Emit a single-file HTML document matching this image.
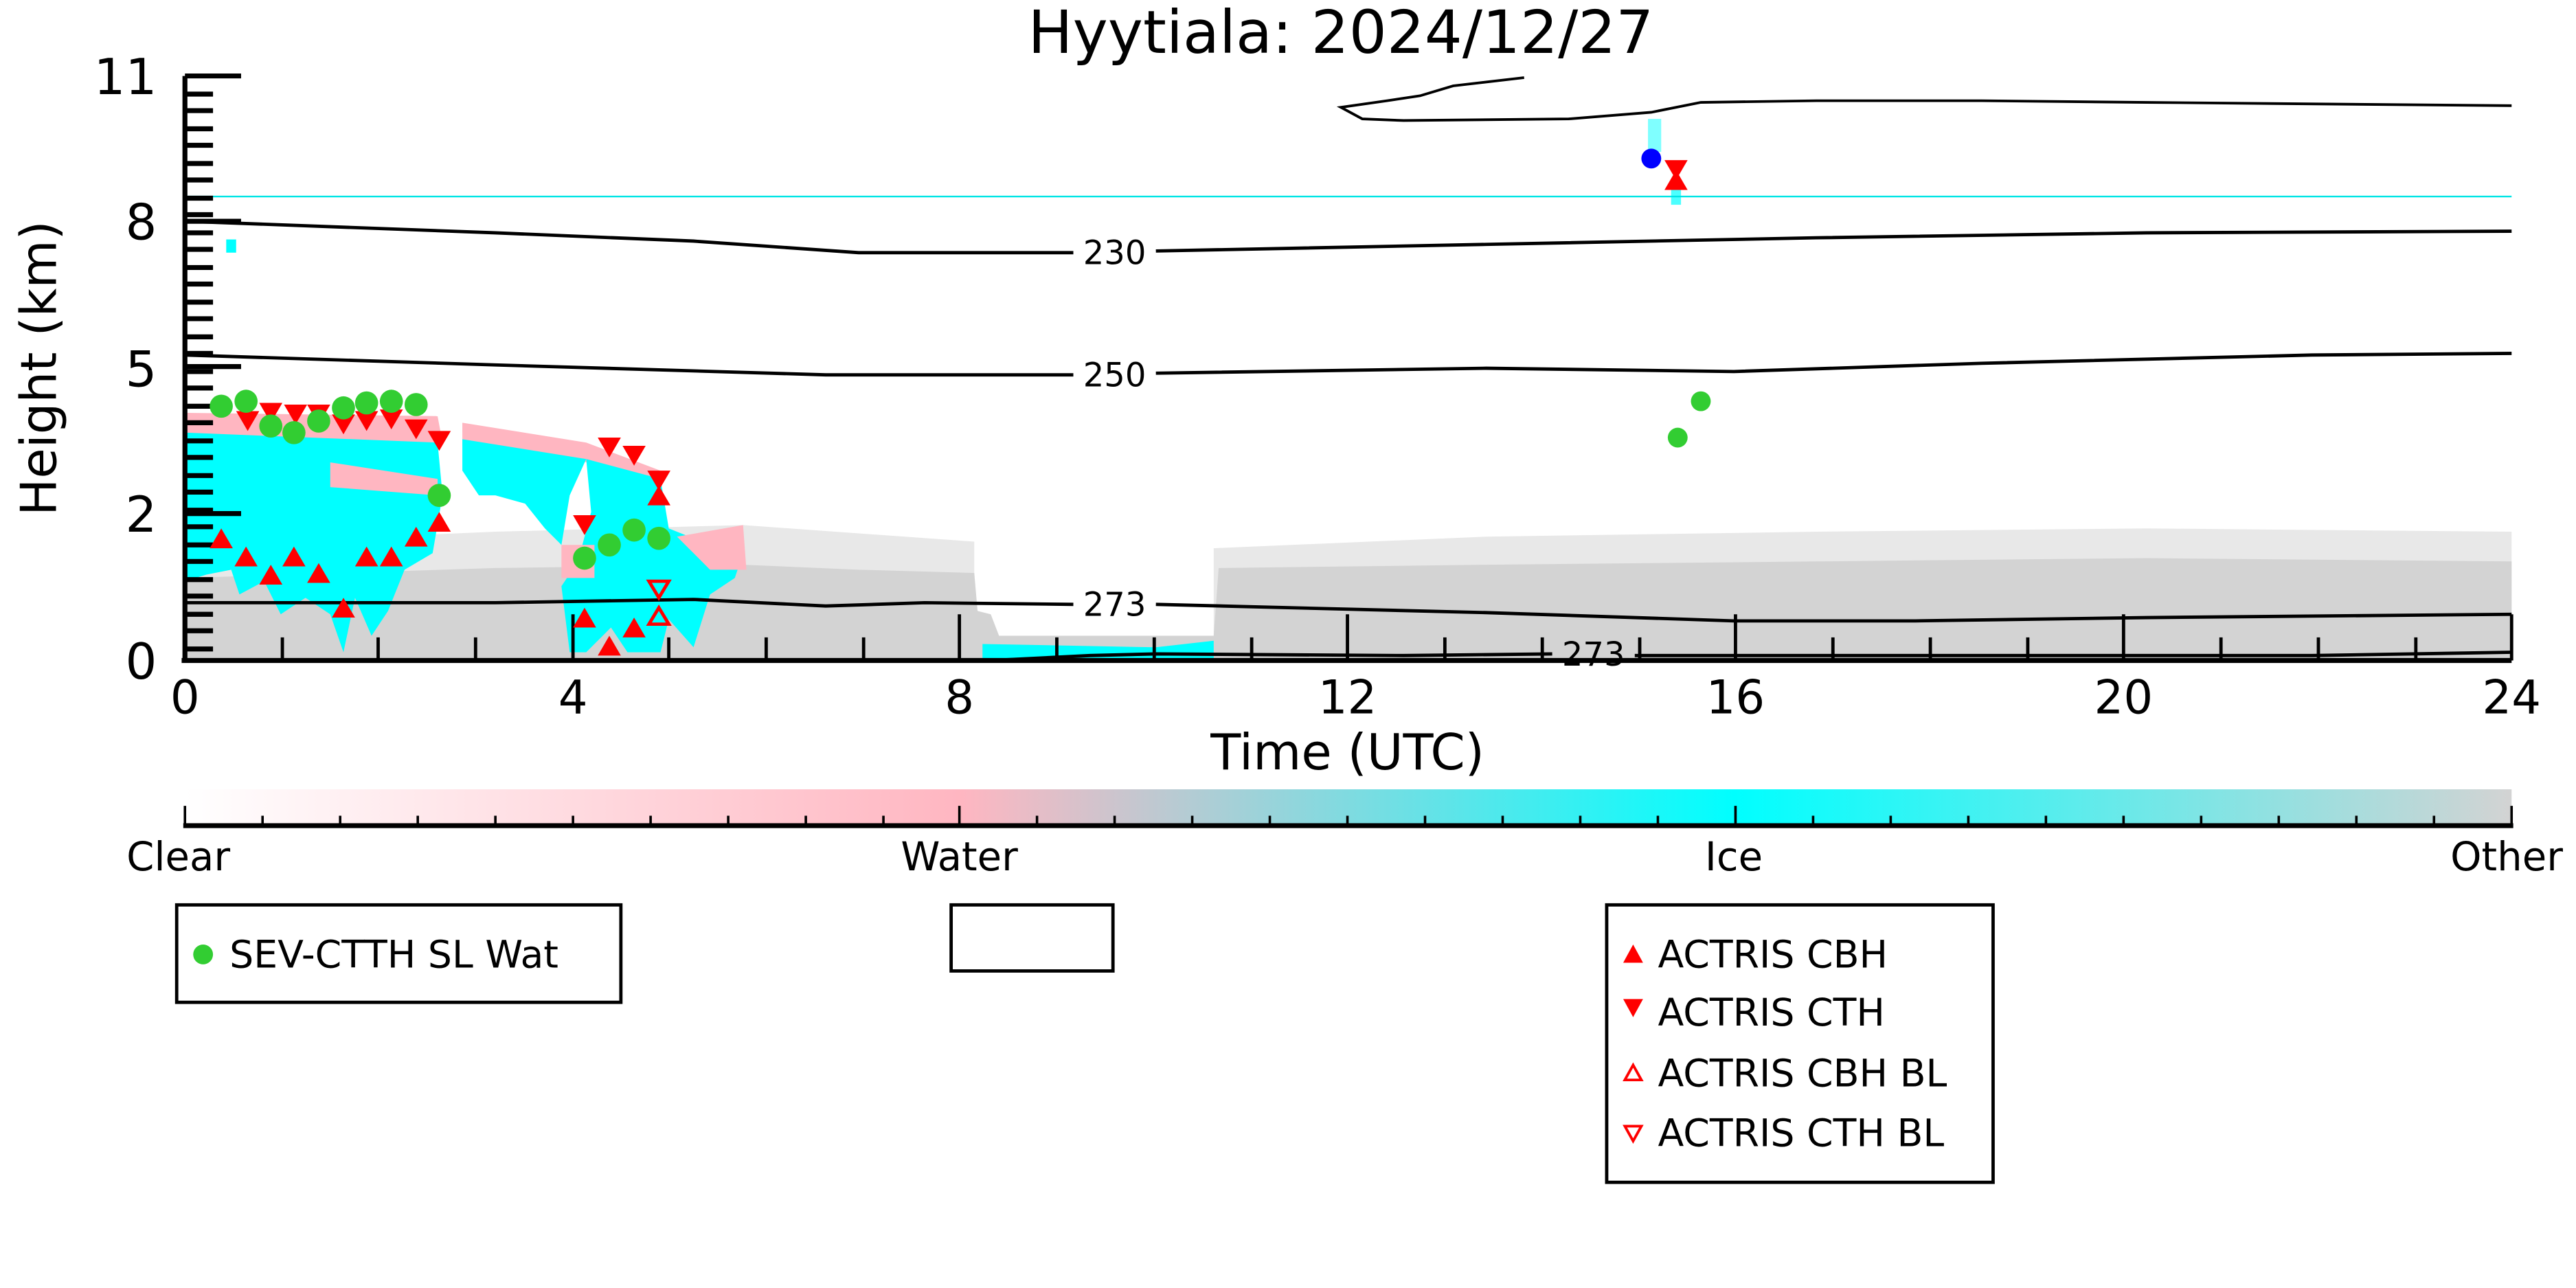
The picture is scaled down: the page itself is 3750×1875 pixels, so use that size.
<!DOCTYPE html>
<html><head><meta charset="utf-8"><style>
html,body{margin:0;padding:0;background:#fff}
svg{display:block}
text{font-family:"DejaVu Sans","Liberation Sans",sans-serif;fill:#000}
</style></head><body>
<svg width="3750" height="1875" viewBox="0 0 1560 780" preserveAspectRatio="none" xmlns="http://www.w3.org/2000/svg">
<defs>
<linearGradient id="cb" x1="0" x2="1" y1="0" y2="0">
<stop offset="0" stop-color="#ffffff"/>
<stop offset="0.333" stop-color="#ffb6c1"/>
<stop offset="0.666" stop-color="#00ffff"/>
<stop offset="1" stop-color="#d3d3d3"/>
</linearGradient>
</defs>
<text x="812" y="32" font-size="36" text-anchor="middle">Hyytiala: 2024/12/27</text>

<!-- grey speckle regions -->
<polygon fill="#e8e8e8" points="112,330 300,322 450,318 590,328 590,400 112,400"/>
<polygon fill="#e8e8e8" points="735,332 900,325 1100,322 1300,320 1521,322 1521,400 735,400"/>
<polygon fill="#d3d3d3" points="112,350 300,344 450,342 520,345 590,347 592,370 600,372 605,385 735,385 738,344 900,342 1100,340 1300,338 1521,340 1521,400 112,400"/>

<!-- left cloud -->
<polygon fill="#ffb6c1" points="112,250 265,252 268,268 250,270 112,268"/>
<polygon fill="#00ffff" points="112,262 265,268 268,300 262,335 245,345 235,370 225,385 215,362 208,395 200,372 185,362 170,372 160,352 145,360 140,345 125,348 112,352"/>
<polygon fill="#ffb6c1" points="200,280 265,290 265,300 200,295"/>
<polygon fill="#ffb6c1" points="280,256 355,268 356,280 340,278 280,270"/>
<polygon fill="#00ffff" points="280,266 355,278 345,300 340,330 330,320 318,305 300,300 290,300 280,285"/>
<polygon fill="#ffb6c1" points="355,268 400,285 395,300 355,280"/>
<polygon fill="#00ffff" points="355,278 400,290 405,320 430,330 450,335 445,350 430,360 420,392 405,375 400,395 380,395 370,380 355,395 345,395 340,355 350,340 358,310"/>
<polygon fill="#ffb6c1" points="340,330 360,330 360,350 340,350"/>
<polygon fill="#ffb6c1" points="410,325 450,318 452,345 430,345"/>
<polygon fill="#00ffff" points="595,390 700,392 735,388 735,400 595,400"/>
<rect x="137" y="145" width="6" height="8" fill="#00ffff"/>
<rect x="998" y="72" width="8" height="20" fill="#00ffff" opacity="0.5"/>
<rect x="1012" y="112" width="6" height="12" fill="#00ffff" opacity="0.7"/>

<line x1="112" y1="119" x2="1521" y2="119" stroke="#00e5e5" stroke-width="1"/>

<!-- contours -->
<g fill="none" stroke="#000" stroke-width="2">
<polyline points="112,134 300,141 420,146 520,153 650,153"/>
<polyline points="700,152 900,148 1100,144 1300,141 1521,140"/>
<polyline points="112,215 300,221 500,227 650,227"/>
<polyline points="700,226 900,223 1050,225 1200,220 1400,215 1521,214"/>
<polyline points="112,365 300,365 420,363 500,367 560,365 650,366"/>
<polyline points="700,366 900,371 1050,376 1160,376 1300,374 1521,372"/>
<polyline points="600,400 660,397 700,396 850,397 940,396"/>
<polyline points="990,397 1100,397 1400,397 1521,395"/>
<polyline points="923,47 880,52 860,58 840,61 812,65 825,72 850,73 950,72 1000,68 1030,62 1100,61 1200,61 1300,62 1521,64" stroke-width="1.6"/>
</g>
<g font-size="20" text-anchor="middle">
<text x="675" y="160">230</text>
<text x="675" y="234">250</text>
<text x="675" y="373">273</text>
<text x="965" y="403">273</text>
</g>

<!-- axes -->
<g stroke="#000">
<line x1="112" y1="46" x2="112" y2="401" stroke-width="3"/>
<line x1="110" y1="400" x2="1521" y2="400" stroke-width="3"/>
<line x1="1521" y1="372" x2="1521" y2="400" stroke-width="2"/>
<g stroke-width="3">
<line x1="112" y1="46" x2="146" y2="46"/>
<line x1="112" y1="134" x2="146" y2="134"/>
<line x1="112" y1="222" x2="146" y2="222"/>
<line x1="112" y1="311" x2="146" y2="311"/>
</g>
<g stroke-width="3">
<path d="M112,57h17M112,67h17M112,78h17M112,88h17M112,99h17M112,109h17M112,120h17M112,130h17M112,141h17M112,151h17M112,162h17M112,172h17M112,183h17M112,193h17M112,204h17M112,214h17M112,225h17M112,235h17M112,246h17M112,256h17M112,267h17M112,277h17M112,288h17M112,298h17M112,309h17M112,319h17M112,330h17M112,340h17M112,351h17M112,361h17M112,372h17M112,382h17M112,393h17"/>
</g>
<g stroke-width="2">
<path d="M171,400v-14M229,400v-14M288,400v-14M405,400v-14M464,400v-14M523,400v-14M640,400v-14M699,400v-14M758,400v-14M875,400v-14M934,400v-14M993,400v-14M1110,400v-14M1169,400v-14M1228,400v-14M1345,400v-14M1404,400v-14M1463,400v-14"/>
<path d="M347,400v-28M581,400v-28M816,400v-28M1051,400v-28M1286,400v-28"/>
</g>
</g>
<g font-size="30" text-anchor="end">
<text x="95" y="57">11</text>
<text x="95" y="145">8</text>
<text x="95" y="234">5</text>
<text x="95" y="322">2</text>
<text x="95" y="411">0</text>
</g>
<text transform="translate(34,223) rotate(-90)" font-size="30" text-anchor="middle">Height (km)</text>
<g font-size="28" text-anchor="middle">
<text x="112" y="432">0</text><text x="347" y="432">4</text><text x="581" y="432">8</text>
<text x="816" y="432">12</text><text x="1051" y="432">16</text><text x="1286" y="432">20</text><text x="1521" y="432">24</text>
</g>
<text x="816" y="466" font-size="30" text-anchor="middle">Time (UTC)</text>

<!-- markers -->
<g fill="#ff0000">
<path id="dn" d="M-7,-6h14l-7,12z" transform="translate(164,250)"/>
<use href="#dn" x="-14" y="5"/><use href="#dn" x="15" y="1"/><use href="#dn" x="29" y="1"/>
<use href="#dn" x="44" y="7"/><use href="#dn" x="58" y="5"/><use href="#dn" x="73" y="4"/>
<use href="#dn" x="88" y="10"/><use href="#dn" x="102" y="17"/><use href="#dn" x="190" y="68"/>
<use href="#dn" x="205" y="21"/><use href="#dn" x="220" y="26"/><use href="#dn" x="235" y="41"/>
<use href="#dn" x="851" y="-147"/>
<path id="up" d="M-7,6h14l-7,-12z" transform="translate(134,326)"/>
<use href="#up" x="15" y="11"/><use href="#up" x="30" y="22"/><use href="#up" x="44" y="11"/>
<use href="#up" x="59" y="21"/><use href="#up" x="74" y="42"/><use href="#up" x="88" y="11"/>
<use href="#up" x="103" y="11"/><use href="#up" x="118" y="-1"/><use href="#up" x="132" y="-10"/>
<use href="#up" x="220" y="48"/><use href="#up" x="235" y="65"/><use href="#up" x="250" y="54"/>
<use href="#up" x="265" y="-26"/><use href="#up" x="881" y="-217"/>
</g>
<g fill="none" stroke="#ff0000" stroke-width="2">
<path d="M393,352h12l-6,10z"/><path d="M393,378h12l-6,-10z"/>
</g>
<g fill="#32cd32">
<circle cx="134" cy="246" r="7"/><circle cx="149" cy="243" r="7"/><circle cx="164" cy="258" r="7"/>
<circle cx="178" cy="262" r="7"/><circle cx="193" cy="255" r="7"/><circle cx="208" cy="247" r="7"/>
<circle cx="222" cy="244" r="7"/><circle cx="237" cy="243" r="7"/><circle cx="252" cy="245" r="7"/>
<circle cx="266" cy="300" r="7"/><circle cx="354" cy="338" r="7"/><circle cx="369" cy="330" r="7"/>
<circle cx="384" cy="321" r="7"/><circle cx="399" cy="326" r="7"/>
<circle cx="1016" cy="265" r="6"/><circle cx="1030" cy="243" r="6"/>
</g>
<circle cx="1000" cy="96" r="6" fill="#0000ff"/>

<!-- colorbar -->
<rect x="112" y="478" width="1409" height="22" fill="url(#cb)"/>
<g stroke="#000">
<line x1="111" y1="500" x2="1522" y2="500" stroke-width="3"/>
<path stroke-width="1.5" d="M112,500v-12M159,500v-6M206,500v-6M253,500v-6M300,500v-6M347,500v-6M394,500v-6M441,500v-6M488,500v-6M535,500v-6M581,500v-12M628,500v-6M675,500v-6M722,500v-6M769,500v-6M816,500v-6M863,500v-6M910,500v-6M957,500v-6M1004,500v-6M1051,500v-12M1098,500v-6M1145,500v-6M1192,500v-6M1239,500v-6M1286,500v-6M1333,500v-6M1380,500v-6M1427,500v-6M1474,500v-6M1521,500v-12"/>
</g>
<g font-size="24" text-anchor="middle">
<text x="108" y="527">Clear</text><text x="581" y="527">Water</text><text x="1050" y="527">Ice</text><text x="1518" y="527">Other</text>
</g>

<!-- legends -->
<g fill="none" stroke="#000" stroke-width="2">
<rect x="107" y="548" width="269" height="59"/>
<rect x="576" y="548" width="98" height="40"/>
<rect x="973" y="548" width="234" height="168"/>
</g>
<circle cx="123" cy="578" r="6" fill="#32cd32"/>
<text x="139" y="586" font-size="23">SEV-CTTH SL Wat</text>
<g fill="#ff0000">
<path d="M983,583h12l-6,-11z"/>
<path d="M983,605h12l-6,11z"/>
</g>
<g fill="none" stroke="#ff0000" stroke-width="1.6">
<path d="M984,654h10l-5,-9z"/><path d="M984,682h10l-5,9z"/>
</g>
<g font-size="23">
<text x="1004" y="586">ACTRIS CBH</text>
<text x="1004" y="621">ACTRIS CTH</text>
<text x="1004" y="658">ACTRIS CBH BL</text>
<text x="1004" y="694">ACTRIS CTH BL</text>
</g>
</svg>
</body></html>
